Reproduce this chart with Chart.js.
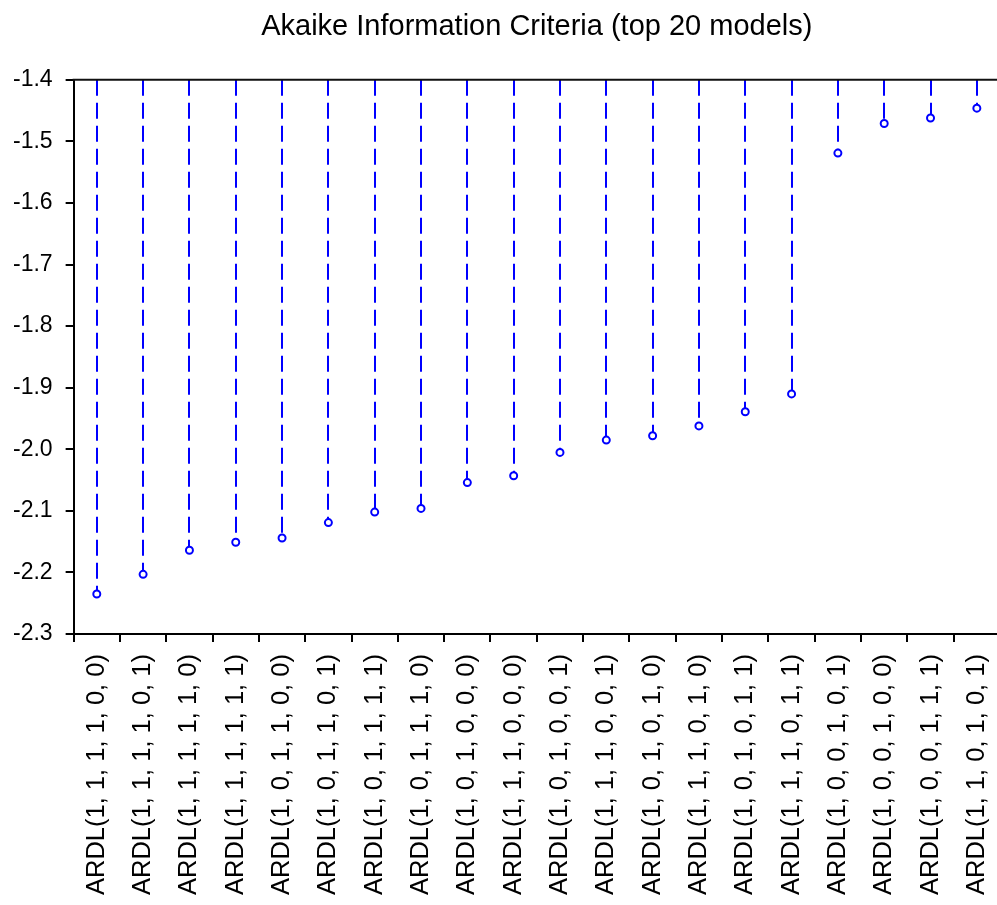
<!DOCTYPE html>
<html lang="en">
<head>
    <meta charset="UTF-8">
    <title>Akaike Information Criteria</title>
    <script src="https://cdn.jsdelivr.net/npm/chart.js"></script>
    <style>
        html, body { margin: 0; padding: 0; overflow: hidden; background: #ffffff; }
        #aicChart { display: block; }
    </style>
</head>
<body>
    <canvas id="aicChart" width="1006" height="905"></canvas>

    <script>
        // model labels, best (lowest AIC) first
        const models = [
            'ARDL(1, 1, 1, 1, 0, 0)', 'ARDL(1, 1, 1, 1, 0, 1)', 'ARDL(1, 1, 1, 1, 1, 0)',
            'ARDL(1, 1, 1, 1, 1, 1)', 'ARDL(1, 0, 1, 1, 0, 0)', 'ARDL(1, 0, 1, 1, 0, 1)',
            'ARDL(1, 0, 1, 1, 1, 1)', 'ARDL(1, 0, 1, 1, 1, 0)', 'ARDL(1, 0, 1, 0, 0, 0)',
            'ARDL(1, 1, 1, 0, 0, 0)', 'ARDL(1, 0, 1, 0, 0, 1)', 'ARDL(1, 1, 1, 0, 0, 1)',
            'ARDL(1, 0, 1, 0, 1, 0)', 'ARDL(1, 1, 1, 0, 1, 0)', 'ARDL(1, 0, 1, 0, 1, 1)',
            'ARDL(1, 1, 1, 0, 1, 1)', 'ARDL(1, 0, 0, 1, 0, 1)', 'ARDL(1, 0, 0, 1, 0, 0)',
            'ARDL(1, 0, 0, 1, 1, 1)', 'ARDL(1, 1, 0, 1, 0, 1)'
        ];

        const aicValues = [
            -2.235, -2.203, -2.164, -2.151, -2.144, -2.119, -2.102, -2.096, -2.054, -2.043,
            -2.005, -1.985, -1.978, -1.962, -1.939, -1.910, -1.519, -1.471, -1.462, -1.446
        ];

        const yMin = -2.3;
        const yMax = -1.4;
        const yStep = 0.1;

        const fontFamily = '"Liberation Sans", Arial, sans-serif';

        // dashed stems hanging from the top of the plot down to each point
        const stemPlugin = {
            id: 'stems',
            beforeDatasetsDraw(chart) {
                const ctx = chart.ctx;
                const x = chart.scales.x;
                const y = chart.scales.y;
                const top = y.getPixelForValue(yMax);
                ctx.save();
                ctx.strokeStyle = '#0000ff';
                ctx.lineWidth = 2;
                ctx.setLineDash([16, 7]);
                aicValues.forEach((v, i) => {
                    const px = Math.round(x.getPixelForValue(i));
                    ctx.beginPath();
                    ctx.moveTo(px, top);
                    ctx.lineTo(px, y.getPixelForValue(v) - 3);
                    ctx.stroke();
                });
                ctx.restore();
            }
        };

        // closed top edge of the plot frame, title centred over the plot
        const frameAndTitle = {
            id: 'frameAndTitle',
            afterLayout(chart) {
                const t = chart.titleBlock;
                const a = chart.chartArea;
                if (t) {
                    t.left = a.left;
                    t.right = a.right;
                    t.width = a.right - a.left;
                }
            },
            afterDraw(chart) {
                const a = chart.chartArea;
                const ctx = chart.ctx;
                ctx.save();
                ctx.strokeStyle = '#111111';
                ctx.lineWidth = 2;
                ctx.beginPath();
                ctx.moveTo(a.left - 1, a.top);
                ctx.lineTo(a.right + 2, a.top);
                ctx.stroke();
                ctx.restore();
            }
        };

        new Chart(document.getElementById('aicChart'), {
            type: 'line',
            data: {
                labels: models,
                datasets: [{
                    data: aicValues,
                    showLine: false,
                    borderColor: '#0000ff',
                    backgroundColor: '#ffffff',
                    pointBorderColor: '#0000ff',
                    pointBackgroundColor: '#ffffff',
                    pointRadius: 3.5,
                    pointBorderWidth: 2
                }]
            },
            options: {
                responsive: false,
                animation: false,
                layout: { padding: { left: 0, right: 0, top: 0, bottom: -2 } },
                plugins: {
                    legend: { display: false },
                    tooltip: { enabled: false },
                    title: {
                        display: true,
                        text: 'Akaike Information Criteria (top 20 models)',
                        color: '#000000',
                        font: { family: fontFamily, size: 29, weight: 'normal' },
                        padding: { top: 10, bottom: 35 }
                    }
                },
                scales: {
                    x: {
                        type: 'category',
                        offset: true,
                        afterFit(scale) {
                            // let the plot run to the right edge like the original
                            scale.paddingRight = 0;
                            scale.paddingLeft = 0;
                        },
                        grid: {
                            offset: true,
                            drawOnChartArea: false,
                            drawTicks: true,
                            tickLength: 8,
                            color: '#000000',
                            lineWidth: 2
                        },
                        border: { display: true, color: '#000000', width: 2 },
                        ticks: {
                            color: '#000000',
                            font: { family: fontFamily, size: 25.5 },
                            minRotation: 90,
                            maxRotation: 90,
                            autoSkip: false,
                            padding: 12
                        }
                    },
                    y: {
                        min: yMin,
                        max: yMax,
                        grid: {
                            drawOnChartArea: false,
                            drawTicks: true,
                            tickLength: 8,
                            color: '#000000',
                            lineWidth: 2
                        },
                        border: { display: true, color: '#000000', width: 2 },
                        ticks: {
                            stepSize: yStep,
                            color: '#000000',
                            font: { family: fontFamily, size: 23 },
                            padding: 13,
                            callback: (v) => v.toFixed(1)
                        }
                    }
                }
            },
            plugins: [stemPlugin, frameAndTitle]
        });
    </script>
</body>
</html>
